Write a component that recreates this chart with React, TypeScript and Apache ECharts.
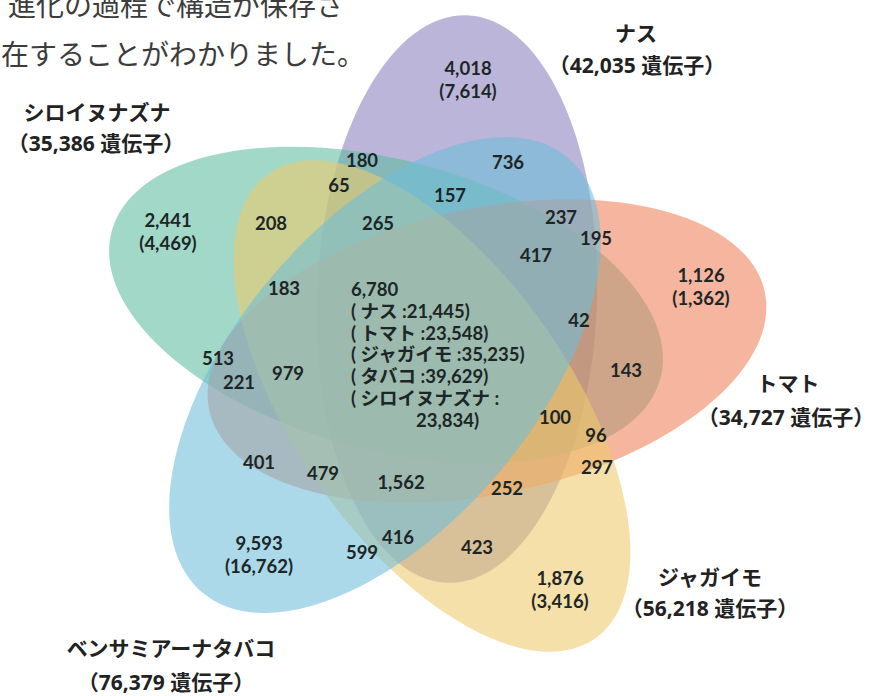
import React, { useEffect, useRef } from 'react';
import * as echarts from 'echarts';

// ---- data ----
const titleLines = ['進化の過程で構造が保存さ', '在することがわかりました。'];
const setNames = ['ナス', 'シロイヌナズナ', 'トマト', 'ジャガイモ', 'ベンサミアーナタバコ'];
const setGeneCounts = [42035, 35386, 34727, 56218, 76379];
const uniqueGenes = [4018, 2441, 1126, 1876, 9593];
const uniqueClusters = [7614, 4469, 1362, 3416, 16762];
const overlapValues = [180, 65, 736, 157, 265, 237, 195, 417, 208, 183, 513, 221, 979, 42, 143, 100, 96, 297, 252, 423, 401, 479, 1562, 599, 416];
const coreTotal = 6780;
const coreSpecies = ['ナス', 'トマト', 'ジャガイモ', 'タバコ', 'シロイヌナズナ'];
const coreCounts = [21445, 23548, 35235, 39629, 23834];

// ---- layout (positions / sizes / styles) ----
// [cx, cy, semi-major, semi-minor, axis angle in degrees (screen, clockwise)]
const ellipseLayout = [
  [457, 299, 284, 140, 92],
  [386, 305, 284, 145, 15],
  [487, 351, 284, 143, 168],
  [432, 406, 284, 138, 55],
  [385, 375, 284, 150, 130],
];
const ellipseColors = [
  'rgba(138,130,190,0.58)',
  'rgba(95,187,160,0.58)',
  'rgba(237,128,90,0.58)',
  'rgba(237,202,107,0.58)',
  'rgba(110,190,217,0.58)',
];
const drawOrder = [0, 1, 2, 3, 4];
const titlePos = [[8, 4], [1, 53]];
const setNamePos = [[636, 33], [97, 112], [788, 383], [710, 577], [171, 648]];
const setCountPos = [[637, 65], [96, 143], [786, 417], [710, 608], [166, 682]];
const uniquePos = [[468, 79], [168, 231], [701, 286], [560, 589], [259, 554]];
const overlapPos = [
  [362, 160], [339, 185], [508, 162], [450, 195], [378, 223], [561, 217], [596, 238], [536, 255],
  [271, 223], [284, 288], [218, 358], [239, 382], [288, 373], [579, 320], [626, 370], [555, 417],
  [596, 435], [597, 467], [507, 488], [477, 547], [259, 462], [323, 473], [401, 482], [362, 552], [398, 537],
];
const corePos = [351, 289];
const coreLineGap = 21.8;
const coreLastIndent = 65;

const fmt = (n: number) => n.toLocaleString('en-US');
const numFont = 'bold 18.5px Lato, "Noto Sans CJK JP", sans-serif';
const setFont = 'bold 21px "Open Sans", "Noto Sans CJK JP", sans-serif';
const numColor = '#1d2626';

type Lbl = { value: number[]; text: string; font: string; fill: string; align: string; lh?: number };

function buildLabels(): Lbl[] {
  const out: Lbl[] = [];
  titleLines.forEach((t, i) =>
    out.push({ value: titlePos[i], text: t, font: '28px "Noto Sans CJK JP", sans-serif', fill: '#3c3c3c', align: 'left' }),
  );
  setNames.forEach((t, i) => {
    out.push({ value: setNamePos[i], text: t, font: setFont, fill: '#222', align: 'center' });
    out.push({
      value: setCountPos[i],
      text: `（${fmt(setGeneCounts[i])} 遺伝子）`,
      font: setFont,
      fill: '#222',
      align: 'center',
    });
  });
  uniqueGenes.forEach((v, i) =>
    out.push({ value: uniquePos[i], text: `${fmt(v)}\n(${fmt(uniqueClusters[i])})`, font: numFont, fill: numColor, align: 'center', lh: 23 }),
  );
  overlapValues.forEach((v, i) =>
    out.push({ value: overlapPos[i], text: fmt(v), font: numFont, fill: numColor, align: 'center' }),
  );
  const coreLines = [fmt(coreTotal)];
  coreSpecies.forEach((s, i) => {
    if (i < coreSpecies.length - 1) coreLines.push(`( ${s} :${fmt(coreCounts[i])})`);
    else coreLines.push(`( ${s} :`);
  });
  coreLines.forEach((t, i) =>
    out.push({ value: [corePos[0], corePos[1] + i * coreLineGap], text: t, font: numFont, fill: numColor, align: 'left' }),
  );
  out.push({
    value: [corePos[0] + coreLastIndent, corePos[1] + coreLines.length * coreLineGap],
    text: `${fmt(coreCounts[coreCounts.length - 1])})`,
    font: numFont,
    fill: numColor,
    align: 'left',
  });
  return out;
}

export default function App() {
  const ref = useRef<HTMLDivElement>(null);
  useEffect(() => {
    document.body.style.margin = '0';
    const chart = echarts.init(ref.current!, null, { renderer: 'svg' });
    const labels = buildLabels();
    chart.setOption({
      animation: false,
      backgroundColor: '#ffffff',
      grid: { left: 0, right: 0, top: 0, bottom: 0 },
      xAxis: { type: 'value', min: 0, max: 881, show: false },
      yAxis: { type: 'value', min: 0, max: 696, inverse: true, show: false },
      series: [
        {
          type: 'custom',
          silent: true,
          clip: false,
          data: drawOrder.map((i) => ellipseLayout[i]),
          renderItem: (params: any, api: any) => {
            const c = api.coord([api.value(0), api.value(1)]);
            const s = api.size([api.value(2), api.value(3)]);
            const ci = drawOrder[params.dataIndex];
            return {
              type: 'ellipse',
              x: c[0],
              y: c[1],
              rotation: (-api.value(4) * Math.PI) / 180,
              shape: { cx: 0, cy: 0, rx: s[0], ry: s[1] },
              style: { fill: ellipseColors[ci] },
            };
          },
          z: 1,
        },
        {
          type: 'custom',
          silent: true,
          clip: false,
          data: labels.map((l) => l.value),
          renderItem: (params: any, api: any) => {
            const l = labels[params.dataIndex];
            const c = api.coord([api.value(0), api.value(1)]);
            return {
              type: 'text',
              x: c[0],
              y: c[1],
              style: {
                text: l.text,
                font: l.font,
                fill: l.fill,
                align: l.align,
                verticalAlign: 'middle',
                lineHeight: l.lh,
              },
            };
          },
          z: 5,
        },
      ],
    });
    return () => chart.dispose();
  }, []);
  return <div ref={ref} style={{ width: 881, height: 696 }} />;
}
